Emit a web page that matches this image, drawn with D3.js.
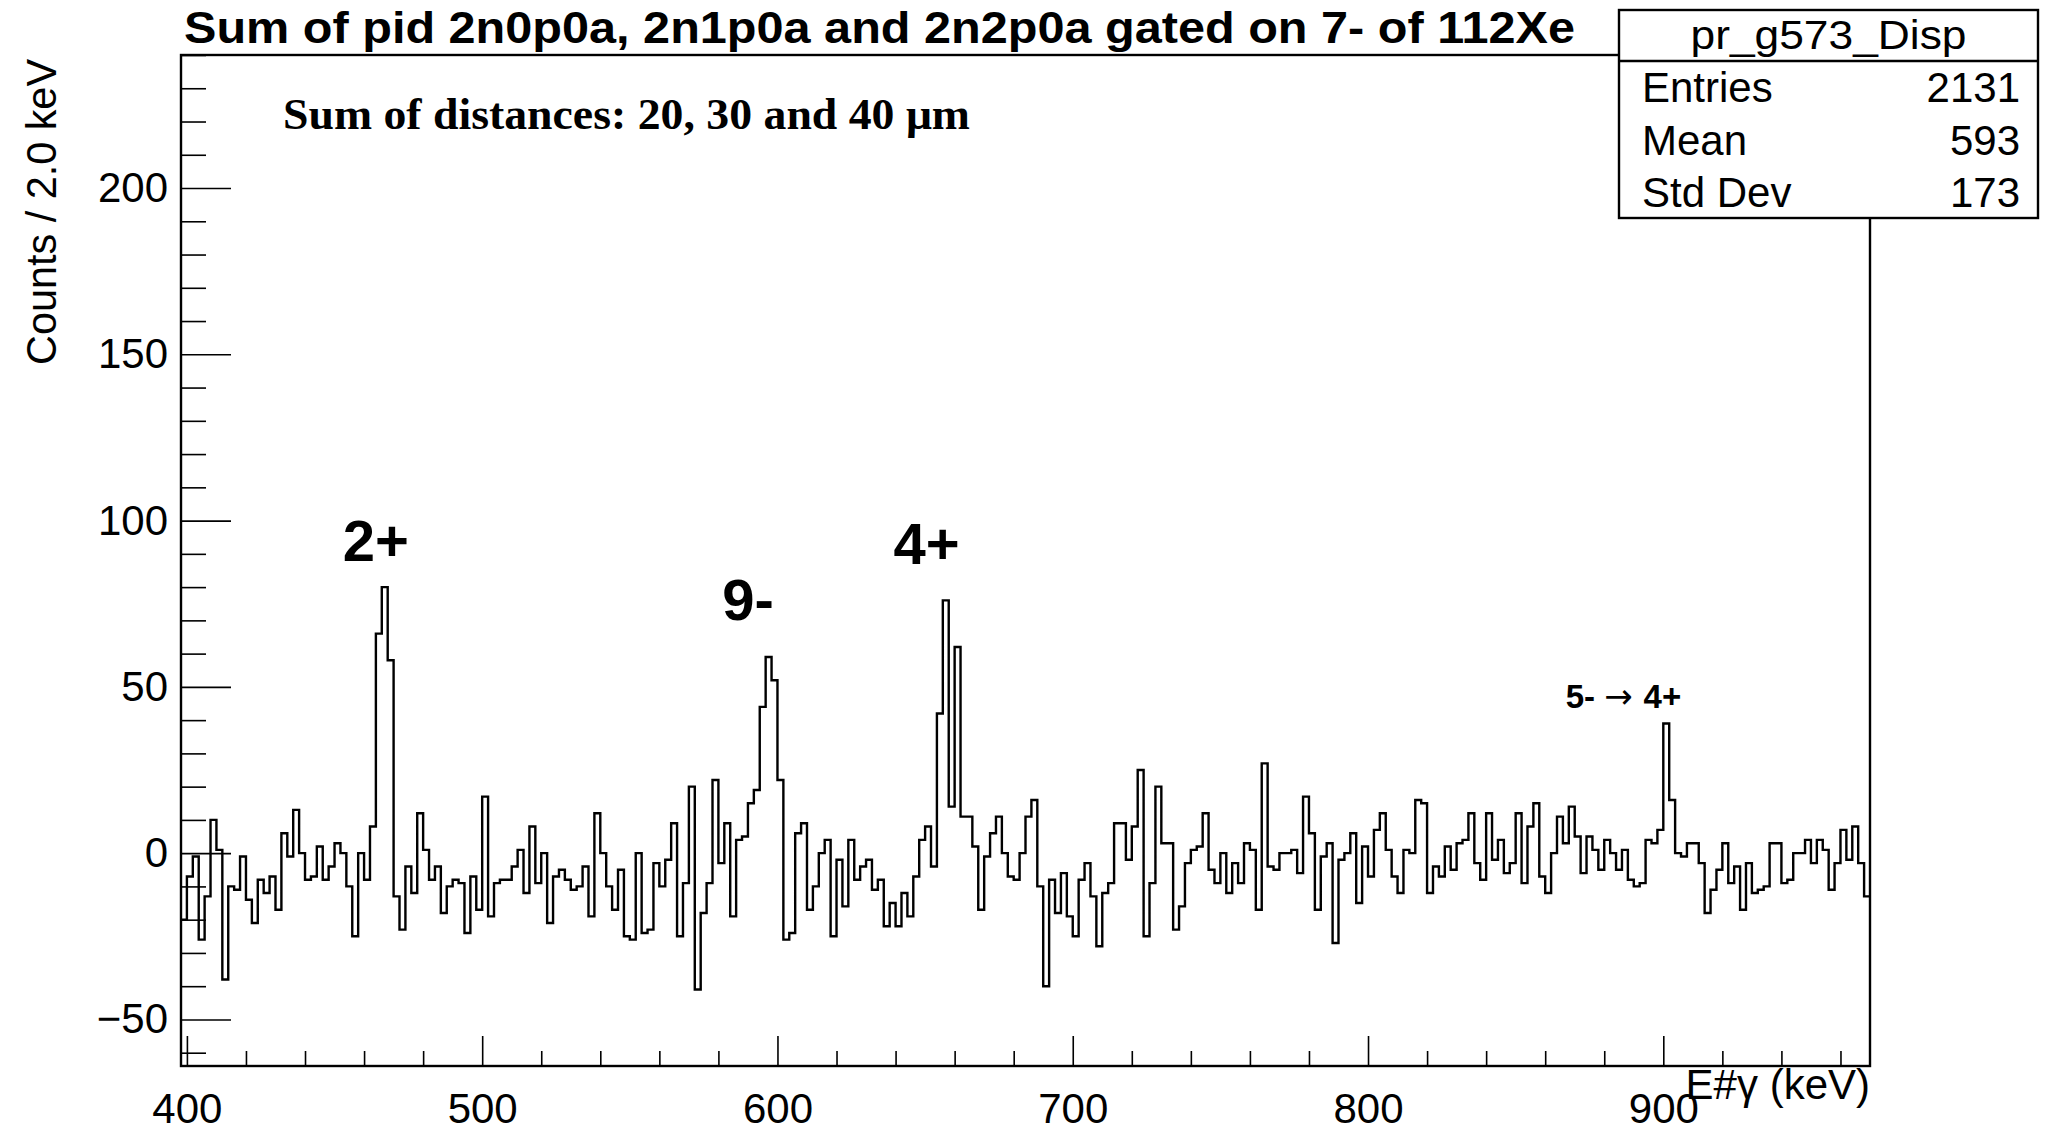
<!DOCTYPE html>
<html>
<head>
<meta charset="utf-8">
<script src="https://cdn.jsdelivr.net/npm/d3@7"></script>
<style>
  body { margin: 0; background: #fff; }
  text { fill: #000; }
</style>
</head>
<body>
<script>
// histogram definition (2 keV bins)
const binStart = 398;
const binWidth = 2;
const counts = [
  -20, -7, -1, -26, -13, 10, 1, -38, -10, -11, -1, -14, -21, -8, -12, -7, -17, 6, -1, 13,
  0, -8, -7, 2, -8, -4, 3, 0, -10, -25, 0, -8, 8, 66, 80, 58, -13, -23, -4, -12,
  12, 1, -8, -4, -18, -10, -8, -9, -24, -7, -17, 17, -19, -9, -8, -8, -4, 1, -12, 8,
  -9, 0, -21, -7, -5, -8, -11, -10, -4, -19, 12, 0, -10, -17, -5, -25, -26, 0, -24, -23,
  -3, -10, -2, 9, -25, -9, 20, -41, -18, -9, 22, -3, 9, -19, 4, 5, 15, 19, 44, 59,
  52, 22, -26, -24, 6, 9, -17, -10, 0, 4, -25, -2, -16, 4, -8, -4, -2, -11, -8, -22,
  -15, -22, -12, -19, -7, 4, 8, -4, 42, 76, 14, 62, 11, 11, 2, -17, -1, 6, 11, 0,
  -7, -8, 0, 11, 16, -10, -40, -8, -18, -6, -19, -25, -8, -3, -13, -28, -12, -9, 9, 9,
  -2, 8, 25, -25, -9, 20, 3, 3, -23, -16, -3, 1, 2, 12, -5, -9, 0, -12, -3, -9,
  3, 1, -17, 27, -4, -5, 0, 0, 1, -6, 17, 6, -17, -1, 3, -27, -2, 0, 6, -15,
  2, -7, 7, 12, 1, -7, -12, 1, 0, 16, 15, -12, -4, -7, 2, -5, 3, 4, 12, -3,
  -8, 12, -2, 4, -6, -3, 12, -9, 8, 15, -7, -12, 0, 11, 3, 14, 5, -6, 5, 1,
  -5, 4, 0, -5, 1, -8, -10, -9, 4, 3, 7, 39, 16, 0, -1, 3, 3, -3, -18, -11,
  -5, 3, -9, -4, -17, -3, -12, -11, -10, 3, 3, -9, -8, 0, 0, 4, -3, 4, 1, -11,
  -3, 7, -2, 8, -3, -13
];

// axes
const xDomain = [398, 970];
const yDomain = [-64, 240];
const xMajor = [400, 500, 600, 700, 800, 900];
const yMajor = [-50, 0, 50, 100, 150, 200];

// texts
const title = 'Sum of pid 2n0p0a, 2n1p0a and 2n2p0a gated on 7- of 112Xe';
const subTitle = 'Sum of distances: 20, 30 and 40 \u03bcm';
const xTitle = 'E#\u03b3 (keV)';
const yTitle = 'Counts / 2.0 keV';

// stats box
const statsName = 'pr_g573_Disp';
const statLabels = ['Entries', 'Mean', 'Std Dev'];
const statValues = ['2131', '593', '173'];

// peak labels (energy, counts)
const peakText = ['2+', '9-', '4+'];
const peakEnergy = [464, 590, 650.5];
const peakCount = [88, 70, 87];
// the small transition label
const transFrom = '5-', transTo = '4+';
const transEnergy = 886.5, transCount = 43.7;

const width = 2046, height = 1132;
const frame = {left: 181, right: 1870, top: 55, bottom: 1066};

const svg = d3.select('body').append('svg')
  .attr('width', width)
  .attr('height', height)
  .style('font-family', '"Liberation Sans", Arial, sans-serif');

svg.append('rect').attr('width', width).attr('height', height).attr('fill', '#fff');

const x = d3.scaleLinear().domain(xDomain).range([frame.left, frame.right]);
const y = d3.scaleLinear().domain(yDomain).range([frame.bottom, frame.top]);

// minor tick values
const xMinor = d3.range(420, 970, 20).filter(v => v % 100 !== 0);
const yMinor = d3.range(-60, 241, 10).filter(v => v % 50 !== 0);

function styleAxis(g) {
  g.select('.domain').remove();
  g.selectAll('.tick line').attr('stroke', '#000').attr('stroke-width', 1.6);
  g.selectAll('.tick text').attr('fill', '#000');
}

// x axis (ticks point up into the frame)
svg.append('g')
  .attr('transform', `translate(0,${frame.bottom})`)
  .call(d3.axisBottom(x).tickValues(xMinor).tickSizeInner(-15).tickSizeOuter(0).tickFormat(''))
  .call(styleAxis);
svg.append('g')
  .attr('transform', `translate(0,${frame.bottom})`)
  .call(d3.axisBottom(x).tickValues(xMajor).tickSizeInner(-30).tickSizeOuter(0).tickPadding(27))
  .call(styleAxis)
  .selectAll('.tick text').style('font-size', '42px');

// y axis (ticks point right)
svg.append('g')
  .attr('transform', `translate(${frame.left},0)`)
  .call(d3.axisLeft(y).tickValues(yMinor).tickSizeInner(-25).tickSizeOuter(0).tickFormat(''))
  .call(styleAxis);
svg.append('g')
  .attr('transform', `translate(${frame.left},0)`)
  .call(d3.axisLeft(y).tickValues(yMajor).tickSizeInner(-50).tickSizeOuter(0).tickPadding(13)
    .tickFormat(d => d < 0 ? '\u2212' + Math.abs(d) : d))
  .call(styleAxis)
  .selectAll('.tick text').style('font-size', '42px');

// histogram as a step line
const steps = counts.map((c, i) => [binStart + i * binWidth, c]);
steps.push([binStart + counts.length * binWidth, counts[counts.length - 1]]);
const line = d3.line()
  .x(d => x(d[0]))
  .y(d => y(d[1]))
  .curve(d3.curveStepAfter);
svg.append('path')
  .datum(steps)
  .attr('d', line)
  .attr('fill', 'none')
  .attr('stroke', '#000')
  .attr('stroke-width', 2.4);

// frame
svg.append('rect')
  .attr('x', frame.left).attr('y', frame.top)
  .attr('width', frame.right - frame.left)
  .attr('height', frame.bottom - frame.top)
  .attr('fill', 'none')
  .attr('stroke', '#000')
  .attr('stroke-width', 2.4);

// axis titles
svg.append('text')
  .attr('x', frame.right).attr('y', 1099)
  .attr('text-anchor', 'end')
  .style('font-size', '42px')
  .text(xTitle);
svg.append('text')
  .attr('transform', 'translate(56,59) rotate(-90)')
  .attr('text-anchor', 'end')
  .style('font-size', '42px')
  .attr('textLength', 306).attr('lengthAdjust', 'spacingAndGlyphs')
  .text(yTitle);

// title
svg.append('text')
  .attr('x', 184).attr('y', 43)
  .style('font-size', '45px').style('font-weight', 'bold')
  .attr('textLength', 1391).attr('lengthAdjust', 'spacingAndGlyphs')
  .text(title);

// sub title in serif
svg.append('text')
  .attr('x', 283).attr('y', 129)
  .style('font-family', '"Liberation Serif", "DejaVu Serif", serif')
  .style('font-size', '45px').style('font-weight', 'bold')
  .attr('textLength', 687).attr('lengthAdjust', 'spacingAndGlyphs')
  .text(subTitle);

// peak labels
peakText.forEach((t, i) => {
  svg.append('text')
    .attr('x', x(peakEnergy[i]))
    .attr('y', y(peakCount[i]))
    .attr('text-anchor', 'middle')
    .style('font-size', '58px')
    .style('font-weight', 'bold')
    .text(t);
});

const trans = svg.append('text')
  .attr('x', x(transEnergy))
  .attr('y', y(transCount))
  .attr('text-anchor', 'middle')
  .style('font-size', '33px')
  .style('font-weight', 'bold');
trans.append('tspan').text(transFrom + ' ');
trans.append('tspan')
  .style('font-family', '"DejaVu Sans", sans-serif')
  .style('font-weight', 'normal')
  .style('font-size', '34px')
  .text(' \u2192 ');
trans.append('tspan').text(transTo);

// stats box
const box = {x: 1619, y: 10, w: 419, h: 208, head: 51};
const stats = svg.append('g');
stats.append('rect')
  .attr('x', box.x).attr('y', box.y).attr('width', box.w).attr('height', box.h)
  .attr('fill', '#fff').attr('stroke', '#000').attr('stroke-width', 2.4);
stats.append('line')
  .attr('x1', box.x).attr('x2', box.x + box.w)
  .attr('y1', box.y + box.head).attr('y2', box.y + box.head)
  .attr('stroke', '#000').attr('stroke-width', 2.4);
stats.append('text')
  .attr('x', box.x + box.w / 2).attr('y', box.y + 39)
  .attr('text-anchor', 'middle')
  .style('font-size', '40px')
  .attr('textLength', 276).attr('lengthAdjust', 'spacingAndGlyphs')
  .text(statsName);
statLabels.forEach((s, i) => {
  const by = box.y + box.head + 41 + i * 52.5;
  stats.append('text').attr('x', 1642).attr('y', by).style('font-size', '42px').text(s);
  stats.append('text').attr('x', 2020).attr('y', by).attr('text-anchor', 'end')
    .style('font-size', '42px').text(statValues[i]);
});
</script>
</body>
</html>
